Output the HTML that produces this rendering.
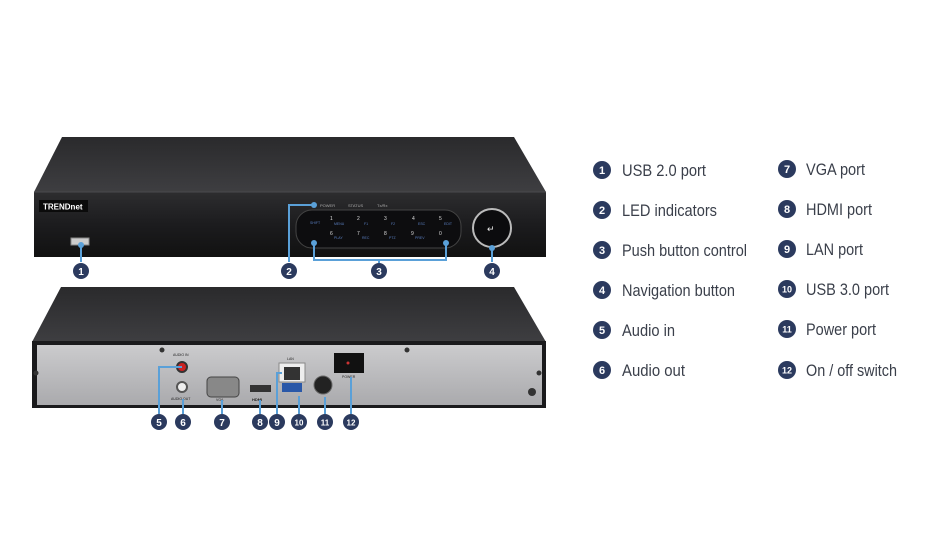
<!DOCTYPE html>
<html><head><meta charset="utf-8"><style>
html,body{margin:0;padding:0;background:#fff;}
svg{display:block;font-family:"Liberation Sans",sans-serif;}
</style></head><body>
<svg width="951" height="538" viewBox="0 0 951 538">
<defs>
<linearGradient id="top" x1="0" y1="0" x2="0" y2="1"><stop offset="0" stop-color="#2a2a2c"/><stop offset="1" stop-color="#3e3e41"/></linearGradient>
<linearGradient id="front" x1="0" y1="0" x2="0" y2="1"><stop offset="0" stop-color="#2d2d2f"/><stop offset="0.5" stop-color="#1c1c1e"/><stop offset="1" stop-color="#111"/></linearGradient>
<linearGradient id="silver" x1="0" y1="0" x2="0" y2="1"><stop offset="0" stop-color="#cbcbcd"/><stop offset="1" stop-color="#aaaaad"/></linearGradient>
</defs>
<!-- FRONT UNIT -->
<polygon points="62,137 514,137 546,192 34,192" fill="url(#top)"/>
<rect x="34" y="192" width="512" height="65" fill="url(#front)"/>
<line x1="34" y1="192" x2="546" y2="192" stroke="#4a4a4d"/>
<rect x="39" y="200" width="49" height="12" fill="#0b0b0b"/>
<text x="43" y="209.5" font-size="8" font-weight="bold" fill="#fff">TRENDnet</text>
<rect x="71" y="238" width="18" height="7" fill="#ccc" stroke="#888"/>
<text x="320" y="207" font-size="4" fill="#aaa">POWER</text>
<text x="348" y="207" font-size="4" fill="#aaa">STATUS</text>
<text x="377" y="207" font-size="4" fill="#aaa">Tx/Rx</text>
<rect x="296" y="210" width="165" height="38" rx="16" fill="#0d0d0f" stroke="#444"/>
<g font-size="5" fill="#ddd">
<text x="330" y="220">1</text><text x="357" y="220">2</text><text x="384" y="220">3</text><text x="412" y="220">4</text><text x="439" y="220">5</text>
<text x="330" y="235">6</text><text x="357" y="235">7</text><text x="384" y="235">8</text><text x="411" y="235">9</text><text x="439" y="235">0</text>
</g>
<g font-size="3.5" fill="#5a7fc0">
<text x="310" y="224">SHIFT</text><text x="334" y="225">MENU</text><text x="364" y="225">F1</text><text x="391" y="225">F2</text><text x="418" y="225">ESC</text><text x="444" y="225">EDIT</text>
<text x="334" y="239">PLAY</text><text x="362" y="239">REC</text><text x="389" y="239">PTZ</text><text x="415" y="239">PREV</text>
</g>
<circle cx="492" cy="228" r="19" fill="#0c0c0e" stroke="#bbb" stroke-width="2"/>
<text x="487" y="232" font-size="9" fill="#eee">↵</text>
<g stroke="#5aa0d8" stroke-width="2" fill="none">
<line x1="81" y1="245" x2="81" y2="262"/>
<polyline points="314,205 289,205 289,262"/>
<polyline points="314,243 314,260 446,260 446,243"/>
<line x1="379" y1="260" x2="379" y2="263"/>
<line x1="492" y1="248" x2="492" y2="262"/>
</g>
<g fill="#5aa0d8"><circle cx="314" cy="205" r="3"/><circle cx="314" cy="243" r="3"/><circle cx="446" cy="243" r="3"/><circle cx="492" cy="248" r="3"/><circle cx="81" cy="245" r="3"/></g>
<!-- BACK UNIT -->
<polygon points="61,287 514,287 546,342 32,342" fill="url(#top)"/>
<rect x="32" y="341" width="514" height="67" fill="#1a1a1c"/>
<rect x="37" y="345" width="505" height="60" fill="url(#silver)"/>
<g fill="#333"><circle cx="162" cy="350" r="2.5"/><circle cx="407" cy="350" r="2.5"/><circle cx="36" cy="373" r="2.5"/><circle cx="539" cy="373" r="2.5"/><circle cx="532" cy="392" r="4"/></g>
<circle cx="182" cy="367" r="5" fill="#c22" stroke="#333" stroke-width="2"/>
<circle cx="182" cy="387" r="5" fill="#eee" stroke="#555" stroke-width="2"/>
<text x="173" y="356" font-size="3.5" fill="#222">AUDIO IN</text>
<text x="171" y="400" font-size="3.5" fill="#222">AUDIO OUT</text>
<rect x="207" y="377" width="32" height="20" rx="4" fill="#888" stroke="#444"/>
<text x="216" y="401" font-size="3.5" fill="#222">VGA</text>
<rect x="250" y="385" width="21" height="7" fill="#333"/>
<text x="252" y="401" font-size="4" font-weight="bold" fill="#222">HDMI</text>
<rect x="279" y="363" width="26" height="19" fill="#eee" stroke="#888"/><rect x="284" y="367" width="16" height="13" fill="#333"/>
<text x="287" y="360" font-size="3.5" fill="#222">LAN</text>
<rect x="282" y="383" width="20" height="9" fill="#2a58a8"/>
<circle cx="323" cy="385" r="9" fill="#222" stroke="#666"/>
<rect x="334" y="353" width="30" height="20" fill="#111"/><circle cx="348" cy="363" r="1.5" fill="#c33"/>
<text x="342" y="378" font-size="3.5" fill="#222">POWER</text>
<g stroke="#5aa0d8" stroke-width="2" fill="none">
<polyline points="182,367 159,367 159,414"/>
<line x1="183" y1="399" x2="183" y2="414"/>
<line x1="222" y1="400" x2="222" y2="414"/>
<line x1="260" y1="400" x2="260" y2="414"/>
<polyline points="282,373 277,373 277,414"/>
<line x1="299" y1="396" x2="299" y2="414"/>
<line x1="325" y1="397" x2="325" y2="414"/>
<line x1="351" y1="377" x2="351" y2="414"/>
</g>
<g fill="#2b3a5e">
<circle cx="81" cy="271" r="8"/><circle cx="289" cy="271" r="8"/><circle cx="379" cy="271" r="8"/><circle cx="492" cy="271" r="8"/>
<circle cx="159" cy="422" r="8"/><circle cx="183" cy="422" r="8"/><circle cx="222" cy="422" r="8"/><circle cx="260" cy="422" r="8"/><circle cx="277" cy="422" r="8"/><circle cx="299" cy="422" r="8"/><circle cx="325" cy="422" r="8"/><circle cx="351" cy="422" r="8"/>
</g>
<g fill="#fff" font-size="10" font-weight="bold" text-anchor="middle">
<text x="81" y="275">1</text><text x="289" y="275">2</text><text x="379" y="275">3</text><text x="492" y="275">4</text>
<text x="159" y="426">5</text><text x="183" y="426">6</text><text x="222" y="426">7</text><text x="260" y="426">8</text><text x="277" y="426">9</text>
<text x="299" y="425.5" font-size="8">10</text><text x="325" y="425.5" font-size="8">11</text><text x="351" y="425.5" font-size="8">12</text>
</g>
<!-- LEGEND -->
<g fill="#2b3a5e">
<circle cx="602" cy="170" r="9"/><circle cx="602" cy="210" r="9"/><circle cx="602" cy="250" r="9"/><circle cx="602" cy="290" r="9"/><circle cx="602" cy="330" r="9"/><circle cx="602" cy="370" r="9"/>
<circle cx="787" cy="169" r="9"/><circle cx="787" cy="209" r="9"/><circle cx="787" cy="249" r="9"/><circle cx="787" cy="289" r="9"/><circle cx="787" cy="329" r="9"/><circle cx="787" cy="370" r="9"/>
</g>
<g fill="#fff" font-size="11" font-weight="bold" text-anchor="middle">
<text x="602" y="174">1</text><text x="602" y="214">2</text><text x="602" y="254">3</text><text x="602" y="294">4</text><text x="602" y="334">5</text><text x="602" y="374">6</text>
<text x="787" y="173">7</text><text x="787" y="213">8</text><text x="787" y="253">9</text>
<text x="787" y="292.5" font-size="9">10</text><text x="787" y="332.5" font-size="9">11</text><text x="787" y="373.5" font-size="9">12</text>
</g>
<g fill="#3a3f4a" font-size="17">
<text x="622" y="176" textLength="84" lengthAdjust="spacingAndGlyphs">USB 2.0 port</text>
<text x="622" y="216" textLength="95" lengthAdjust="spacingAndGlyphs">LED indicators</text>
<text x="622" y="256" textLength="125" lengthAdjust="spacingAndGlyphs">Push button control</text>
<text x="622" y="296" textLength="113" lengthAdjust="spacingAndGlyphs">Navigation button</text>
<text x="622" y="336" textLength="53" lengthAdjust="spacingAndGlyphs">Audio in</text>
<text x="622" y="376" textLength="63" lengthAdjust="spacingAndGlyphs">Audio out</text>
<text x="806" y="175" textLength="59" lengthAdjust="spacingAndGlyphs">VGA port</text>
<text x="806" y="215" textLength="66" lengthAdjust="spacingAndGlyphs">HDMI port</text>
<text x="806" y="255" textLength="57" lengthAdjust="spacingAndGlyphs">LAN port</text>
<text x="806" y="295" textLength="83" lengthAdjust="spacingAndGlyphs">USB 3.0 port</text>
<text x="806" y="335" textLength="70" lengthAdjust="spacingAndGlyphs">Power port</text>
<text x="806" y="376" textLength="91" lengthAdjust="spacingAndGlyphs">On / off switch</text>
</g>
</svg>
</body></html>
